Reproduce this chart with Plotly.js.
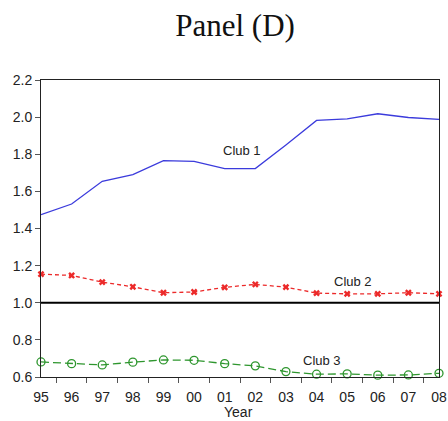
<!DOCTYPE html>
<html>
<head>
<meta charset="utf-8">
<script src="https://cdn.plot.ly/plotly-3.0.1.min.js"></script>
<style>html,body{margin:0;padding:0;background:#fff;}#chart{width:448px;height:421px;}</style>
</head>
<body>
<div id="chart"></div>
<script>
const years = ['95','96','97','98','99','00','01','02','03','04','05','06','07','08'];
const club1 = [1.475,1.532,1.654,1.690,1.766,1.762,1.723,1.723,1.850,1.982,1.991,2.018,1.998,1.988];
const club2 = [1.154,1.147,1.111,1.086,1.054,1.058,1.083,1.099,1.084,1.052,1.048,1.048,1.054,1.048];
const club3 = [0.681,0.672,0.665,0.680,0.692,0.690,0.672,0.660,0.629,0.615,0.617,0.610,0.611,0.620];
const seriesNames = ['Club 1','Club 2','Club 3'];
const yTicks = [0.6,0.8,1.0,1.2,1.4,1.6,1.8,2.0,2.2];
const xTitle = 'Year';
const refLevel = 1.0;

const traces = [
  {x: years, y: club1, name: seriesNames[0], type: 'scatter', mode: 'lines',
   line: {color: '#3b3bdc', width: 1.3}, cliponaxis: false},
  {x: years, y: club2, name: seriesNames[1], type: 'scatter', mode: 'lines+markers',
   line: {color: '#ec2a2a', width: 1.3, dash: '4px,3px'},
   marker: {symbol: 'x', size: 6, color: '#ec2a2a'}, cliponaxis: false},
  {x: years, y: club3, name: seriesNames[2], type: 'scatter', mode: 'lines+markers',
   line: {color: '#2e962e', width: 1.3, dash: '8px,4px'},
   marker: {symbol: 'circle-open', size: 8, color: '#2e962e', line: {width: 1.3}}, cliponaxis: false}
];

const layout = {
  width: 448, height: 421,
  margin: {l: 41, r: 9, t: 80, b: 44},
  paper_bgcolor: '#fff', plot_bgcolor: '#fff',
  showlegend: false,
  font: {family: 'Liberation Sans, Arial, sans-serif', color: '#222', size: 14},
  title: {text: 'Panel (D)', font: {family: 'Liberation Serif, serif', size: 31, color: '#111'},
          x: 0.5246, xanchor: 'center', xref: 'container', y: 0.94, yref: 'container', yanchor: 'middle'},
  xaxis: {type: 'category', range: [0, years.length - 1], tickson: 'boundaries',
          ticks: 'outside', ticklen: 5, tickcolor: '#555', showgrid: false, zeroline: false,
          showline: true, linecolor: '#222', linewidth: 1, mirror: true,
          tickfont: {size: 14, color: '#222'}, ticklabelstandoff: 7, automargin: false},
  yaxis: {range: [0.6, 2.2], tickvals: yTicks, tickformat: '.1f',
          ticks: 'outside', ticklen: 5, tickcolor: '#555', showgrid: false, zeroline: false,
          showline: true, linecolor: '#222', linewidth: 1, mirror: true,
          tickfont: {size: 14, color: '#222'}, automargin: false},
  shapes: [{type: 'line', xref: 'paper', x0: 0, x1: 1, yref: 'y', y0: refLevel, y1: refLevel,
            line: {color: '#000', width: 2}}],
  annotations: [
    {x: 6.56, y: 1.821, xref: 'x', yref: 'y', text: seriesNames[0], showarrow: false, font: {size: 13, color: '#222'}},
    {x: 10.2, y: 1.113, xref: 'x', yref: 'y', text: seriesNames[1], showarrow: false, font: {size: 13, color: '#222'}},
    {x: 9.18, y: 0.687, xref: 'x', yref: 'y', text: seriesNames[2], showarrow: false, font: {size: 13, color: '#222'}},
    {x: 0.495, y: -0.118, xref: 'paper', yref: 'paper', text: xTitle, showarrow: false,
     xanchor: 'center', yanchor: 'middle', font: {size: 14, color: '#222'}}
  ]
};

Plotly.newPlot('chart', traces, layout, {displayModeBar: false, staticPlot: true});
</script>
</body>
</html>
